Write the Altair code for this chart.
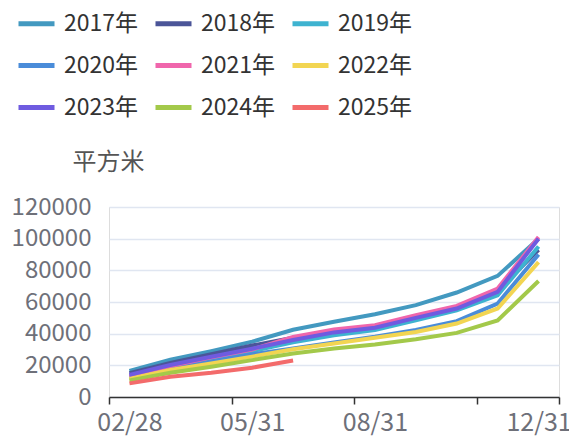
import altair as alt
import pandas as pd

dates = ["02/28", "03/31", "04/30", "05/31", "06/30", "07/31",
         "08/31", "09/30", "10/31", "11/30", "12/31"]
years = ["2017年", "2018年", "2019年", "2020年", "2021年",
         "2022年", "2023年", "2024年", "2025年"]
colors = ["#4399C0", "#4B5598", "#3EB3D0", "#4A8CD9", "#F066AC",
          "#F2D552", "#6F5BE0", "#A3C94A", "#F36B6B"]

v2017 = [16500, 23500, 29000, 35000, 42500, 47500, 52300, 58000, 66000, 76500, 100000]
v2018 = [15000, 21500, 27000, 32500, 37500, 42000, 44500, 49500, 56500, 67000, 93000]
v2019 = [13000, 19000, 24500, 29000, 34500, 39000, 42300, 48500, 54800, 64300, 95000]
v2020 = [12500, 18000, 22500, 27000, 30700, 34500, 38000, 42300, 47900, 59000, 90000]
v2021 = [13000, 19500, 25000, 30000, 38000, 42700, 45400, 51700, 57500, 68500, 101000]
v2022 = [11500, 17000, 21200, 25500, 30200, 33800, 37400, 41100, 46400, 55900, 85200]
v2023 = [14000, 20200, 25400, 30500, 36000, 40800, 43700, 50000, 55900, 66400, 100000]
v2024 = [10500, 15300, 19100, 23300, 27500, 30700, 33200, 36500, 40500, 48300, 73300]
v2025 = [8600, 12800, 15300, 18500, 23000]

series = [v2017, v2018, v2019, v2020, v2021, v2022, v2023, v2024, v2025]

label_idx = [0, 3, 6, 10]
tick_pos = [-0.5, 2.5, 5.5, 8.5, 10.5]
y_ticks = [0, 20000, 40000, 60000, 80000, 100000, 120000]

rows = []
for yr, vals in zip(years, series):
    for i, v in enumerate(vals):
        rows.append({"year": yr, "i": i, "date": dates[i], "value": v})
df = pd.DataFrame(rows)
tick_df = pd.DataFrame({"i": list(range(len(dates)))})

label_expr = " : ".join(
    [f"datum.value == {k} ? '{dates[k]}'" for k in label_idx]) + " : ''"

FONT = "Noto Sans CJK SC"
xscale = alt.Scale(domain=[-0.5, 10.5], nice=False, zero=False)

lines = alt.Chart(df).mark_line(strokeWidth=4).encode(
    x=alt.X("i:Q", scale=xscale,
            axis=alt.Axis(values=label_idx, labelExpr=label_expr, ticks=False,
                          domain=False, grid=False, title=None, orient="bottom",
                          labelFontSize=25, labelColor="#6E7079", labelPadding=13,
                          labelFont=FONT, labelOverlap=False)),
    y=alt.Y("value:Q", scale=alt.Scale(domain=[0, 120000], nice=False),
            axis=alt.Axis(values=y_ticks, tickCount=7, format="d", grid=True,
                          gridColor="#E0E6F1", gridWidth=1.5, domain=False,
                          ticks=False, labelFontSize=24, labelColor="#6E7079",
                          labelPadding=18, labelFont=FONT, labelOverlap=False,
                          title="平方米", titleAngle=0, titleAlign="center",
                          titleBaseline="alphabetic", titleX=-1, titleY=-38,
                          titleFontSize=24, titleFontWeight="normal",
                          titleColor="#555555", titleFont=FONT)),
    color=alt.Color("year:N", scale=alt.Scale(domain=years, range=colors),
                    legend=alt.Legend(orient="none", legendX=-93, legendY=-204,
                                      columns=3, direction="horizontal", title=None,
                                      symbolType="stroke", symbolStrokeWidth=5,
                                      symbolSize=1296, labelFontSize=23,
                                      labelColor="#333333", labelFont=FONT,
                                      labelOffset=7, columnPadding=6,
                                      rowPadding=9)),
)

ticks = alt.Chart(tick_df).mark_point(opacity=0).encode(
    x=alt.X("i:Q", scale=xscale,
            axis=alt.Axis(values=tick_pos, labels=False, ticks=True, tickSize=7,
                          tickColor="#333333", tickWidth=1.5, domain=True,
                          domainColor="#333333", domainWidth=1.5, grid=False,
                          title=None, orient="bottom")),
)

chart = alt.layer(lines, ticks).resolve_scale(x="independent").resolve_axis(
    x="independent"
).properties(
    width=450, height=190,
    autosize=alt.AutoSizeParams(type="none"),
    padding={"left": 101, "top": 199, "right": 10, "bottom": 40},
).configure_view(stroke=None).configure(font=FONT)

chart.save("out.html", embed_options={"renderer": "svg", "actions": False})
